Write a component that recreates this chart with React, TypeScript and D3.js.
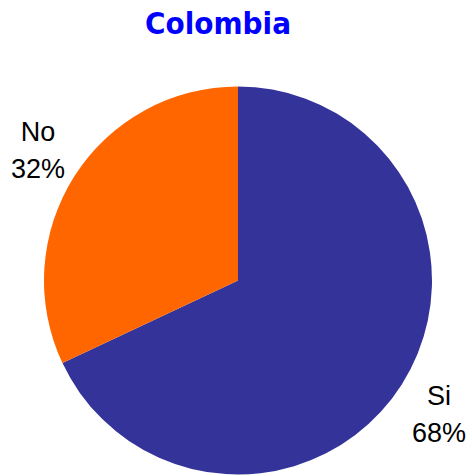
import * as d3 from "d3";
import { useEffect, useRef } from "react";

const title = "Colombia";
const categories = ["Si", "No"];
const values = [68, 32];
const colors = ["#333399", "#FF6600"];

const App = () => {
  const svgRef = useRef<SVGSVGElement>(null);

  useEffect(() => {
    if (!svgRef.current) return;
    const svg = d3.select(svgRef.current);
    svg.selectAll("*").remove();

    const width = 472;
    const height = 476;
    const cx = 238;
    const cy = 280.5;
    const radius = 194;

    svg.attr("width", width).attr("height", height);

    // Title
    svg.append("text")
      .attr("x", 218)
      .attr("y", 34)
      .attr("text-anchor", "middle")
      .attr("fill", "#0000FF")
      .attr("font-family", "'DejaVu Sans', sans-serif")
      .attr("font-weight", "bold")
      .attr("font-size", "31px")
      .attr("textLength", 146)
      .attr("lengthAdjust", "spacingAndGlyphs")
      .text(title);

    const data = categories.map((c, i) => ({ label: c, value: values[i], color: colors[i] }));

    const pie = d3.pie<typeof data[0]>().value(d => d.value).sort(null);
    const arc = d3.arc<d3.PieArcDatum<typeof data[0]>>().innerRadius(0).outerRadius(radius);

    const g = svg.append("g").attr("transform", `translate(${cx},${cy})`);

    g.selectAll("path")
      .data(pie(data))
      .join("path")
      .attr("d", arc)
      .attr("fill", d => d.data.color);

    // Labels outside the pie
    const labelPos: Record<string, [number, number]> = {
      Si: [439, 405],
      No: [38, 141],
    };
    const total = d3.sum(values);
    data.forEach(d => {
      const [x, y] = labelPos[d.label];
      const t = svg.append("text")
        .attr("text-anchor", "middle")
        .attr("fill", "#000")
        .attr("font-family", "'Liberation Sans', Arial, sans-serif")
        .attr("font-size", "27px");
      t.append("tspan").attr("x", x).attr("y", y).text(d.label);
      t.append("tspan").attr("x", x).attr("y", y + 37).text(`${Math.round((d.value / total) * 100)}%`);
    });
  }, []);

  return (
    <svg ref={svgRef} style={{ position: "absolute", left: 0, top: 0 }} />
  );
};

export default App;
